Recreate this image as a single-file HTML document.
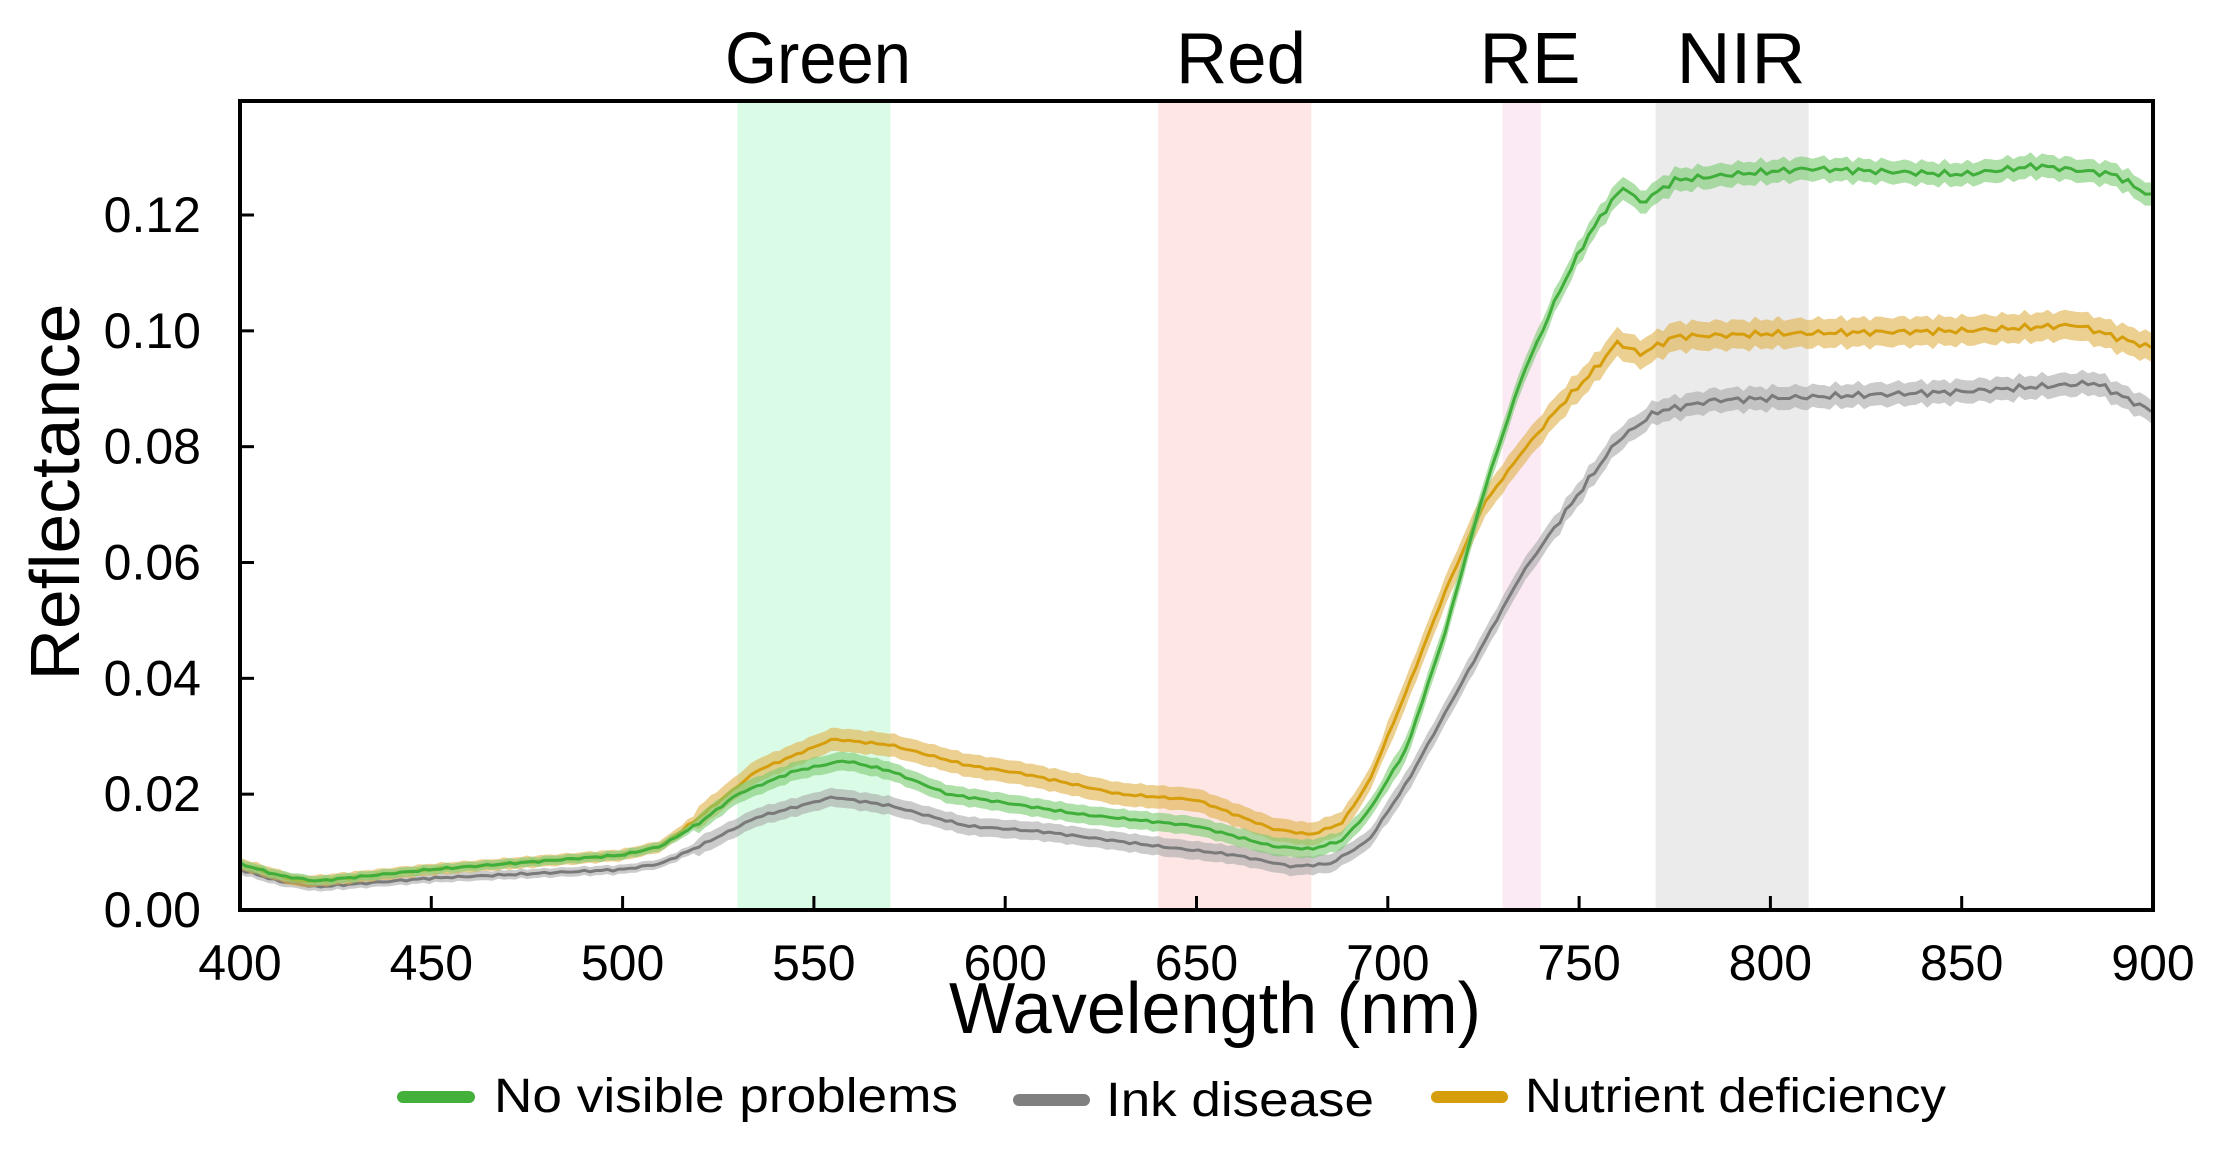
<!DOCTYPE html>
<html><head><meta charset="utf-8"><style>
html,body{margin:0;padding:0;background:#fff;}
svg text{font-family:"Liberation Sans",Arial,sans-serif;fill:#000;}
</style></head><body>
<svg id="s" width="2237" height="1146" viewBox="0 0 2237 1146" xmlns="http://www.w3.org/2000/svg">
<rect width="2237" height="1146" fill="#fff"/>
<g id="bands"></g>
<g id="series"></g>
<rect x="240" y="101" width="1913" height="809" fill="none" stroke="#000" stroke-width="4"/>
<g id="ticks"></g>
<text x="818" y="83" font-size="72" text-anchor="middle" textLength="186" lengthAdjust="spacingAndGlyphs">Green</text>
<text x="1241" y="83" font-size="72" text-anchor="middle" textLength="130" lengthAdjust="spacingAndGlyphs">Red</text>
<text x="1530" y="83" font-size="72" text-anchor="middle" textLength="101" lengthAdjust="spacingAndGlyphs">RE</text>
<text x="1741" y="83" font-size="72" text-anchor="middle" textLength="129" lengthAdjust="spacingAndGlyphs">NIR</text>
<text x="1215" y="1033" font-size="72" text-anchor="middle" textLength="532" lengthAdjust="spacingAndGlyphs">Wavelength (nm)</text>
<text transform="translate(79,492) rotate(-90)" font-size="70" text-anchor="middle" textLength="377" lengthAdjust="spacingAndGlyphs">Reflectance</text>
<line x1="403" y1="1097" x2="469" y2="1097" stroke="#43b03c" stroke-width="12" stroke-linecap="round"/>
<text x="494" y="1112" font-size="48" textLength="464" lengthAdjust="spacingAndGlyphs">No visible problems</text>
<line x1="1019" y1="1100" x2="1084" y2="1100" stroke="#808080" stroke-width="12" stroke-linecap="round"/>
<text x="1106" y="1116" font-size="48" textLength="268" lengthAdjust="spacingAndGlyphs">Ink disease</text>
<line x1="1437" y1="1097" x2="1502" y2="1097" stroke="#d69e0c" stroke-width="12" stroke-linecap="round"/>
<text x="1525" y="1112" font-size="48" textLength="421" lengthAdjust="spacingAndGlyphs">Nutrient deficiency</text>
</svg>
<script>
var NS="http://www.w3.org/2000/svg";
function X(w){return 240+(w-400)*1913/500;}
function Y(v){return 910-v*(695/0.12);}
function el(t,a,p){var e=document.createElementNS(NS,t);for(var k in a)e.setAttribute(k,a[k]);p.appendChild(e);return e;}
var B=document.getElementById('bands');
[[530,570,'#dafbe6'],[640,680,'#fde6e3'],[730,740,'#fbe9f3'],[770,810,'#ebebeb']].forEach(function(b){
 el('rect',{x:X(b[0]),y:101,width:X(b[1])-X(b[0]),height:809,fill:b[2]},B);});
var T=document.getElementById('ticks');
for(var w=400;w<=900;w+=50){el('line',{x1:X(w),y1:910,x2:X(w),y2:896,stroke:'#000','stroke-width':3},T);
 var t=el('text',{x:X(w),y:980,'font-size':50,'text-anchor':'middle'},T);t.textContent=w;}
for(var i=0;i<=6;i++){var v=i*0.02;el('line',{x1:240,y1:Y(v),x2:254,y2:Y(v),stroke:'#000','stroke-width':3},T);
 var t=el('text',{x:201,y:Y(v)+17,'font-size':50,'text-anchor':'end'},T);t.textContent=v.toFixed(2);}
function interp(p,w){for(var i=0;i<p.length-1;i++){if(w<=p[i+1][0]){var a=p[i],b=p[i+1],f=(w-a[0])/(b[0]-a[0]);return a[1]+f*(b[1]-a[1]);}}return p[p.length-1][1];}
var G=[[400,.008],[410,.006],[420,.005],[450,.007],[480,.0085],[500,.0095],[510,.011],[520,.015],[530,.020],[545,.024],[558,.0258],[570,.024],[585,.020],[600,.0185],[620,.0165],[650,.0145],[670,.011],[680,.0105],[688,.012],[695,.017],[705,.028],[715,.048],[725,.072],[735,.092],[745,.107],[752,.116],[758,.122],[762,.125],[766,.122],[775,.126],[790,.127],[810,.128],[850,.127],[870,.1285],[890,.127],[900,.123]];
var K=[[400,.007],[410,.005],[420,.004],[450,.0055],[500,.007],[510,.008],[520,.011],[535,.016],[555,.0195],[570,.018],[590,.0145],[610,.0135],[640,.011],[660,.0095],[675,.0075],[685,.008],[695,.012],[705,.022],[720,.040],[735,.058],[750,.072],[760,.081],[770,.086],[785,.088],[850,.0895],[885,.091],[900,.086]];
var O=[[400,.008],[410,.006],[415,.005],[420,.005],[450,.007],[500,.0095],[510,.011],[520,.016],[535,.024],[555,.0295],[570,.0285],[590,.025],[605,.0235],[630,.020],[650,.019],[670,.014],[680,.013],[688,.015],[695,.022],[705,.038],[715,.055],[725,.070],[735,.079],[745,.087],[755,.094],[760,.098],[766,.096],[775,.099],[800,.0995],[850,.1],[880,.101],[900,.097]];
var S=document.getElementById('series');
function draw(p,col,fill,sd,seed){
 var up=[],dn=[],ln=[];
 for(var w=400;w<=900;w+=1.5){var v=interp(p,w);var n=(w>740?0.0006:0.0002)*Math.sin(w*1.7+seed)*Math.sin(w*0.53+seed*2);v+=n;
  var s=sd*(w<520?0.4:(w<700?0.8:1));ln.push(X(w).toFixed(1)+','+Y(v).toFixed(1));up.push(X(w).toFixed(1)+','+Y(v+s).toFixed(1));dn.unshift(X(w).toFixed(1)+','+Y(v-s).toFixed(1));}
 el('polygon',{points:up.concat(dn).join(' '),fill:fill,'fill-opacity':0.6},S);
 el('polyline',{points:ln.join(' '),fill:'none',stroke:col,'stroke-width':3},S);}
draw(K,'#7a7a7a','#a8a8a8',0.002,1);
draw(O,'#d69e0c','#e0b04a',0.0025,2);
draw(G,'#3fae3a','#7ccc72',0.002,3);
</script>
</body></html>
